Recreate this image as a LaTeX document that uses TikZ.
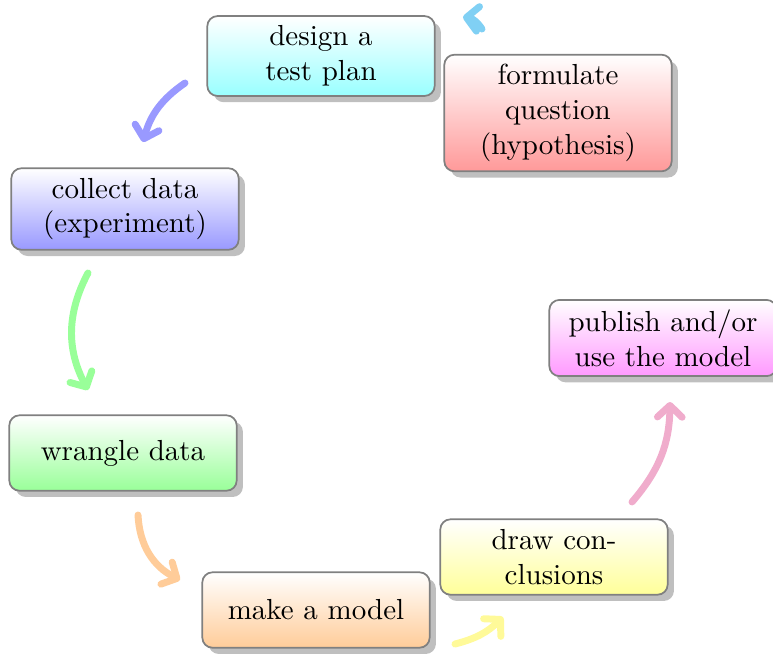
\documentclass[tikz,border=0pt]{standalone}
\usetikzlibrary{shadows,arrows.meta}
\definecolor{arrowcyan}{RGB}{128,208,244}
\definecolor{arrowpink}{RGB}{240,172,204}
\begin{document}
\begin{tikzpicture}[x=0.3448pt,y=-0.3448pt,
  stagebox/.style={draw=black!50, line width=0.6pt, rounded corners=3.5pt,
    align=center, minimum width=78.4pt, minimum height=26pt,
    top color=white, bottom color=#1!40, drop shadow},
  cyclearrow/.style={line width=2.4pt, line cap=round, #1,
    -{Straight Barb[length=4pt,width=8.5pt,round]}}
]
\useasboundingbox (0,0) rectangle (773,653);
% arrow end points
\coordinate (a1s) at (482,29);  \coordinate (a1e) at (463,17);
\coordinate (a2s) at (185,83);  \coordinate (a2e) at (143,142);
\coordinate (a3s) at (88,273);  \coordinate (a3e) at (88,390);
\coordinate (a4s) at (138,515); \coordinate (a4e) at (180,580);
\coordinate (a5s) at (455,644); \coordinate (a5e) at (503,617);
\coordinate (a6s) at (632,502); \coordinate (a6e) at (670,402);
% arrows
\draw[cyclearrow=arrowcyan] (a1s) to[bend right=25] (a1e);
\draw[cyclearrow=blue!40] (a2s) to[bend right=20] (a2e);
\draw[cyclearrow=green!40] (a3s) to[bend right=28] (a3e);
\draw[cyclearrow=orange!40] (a4s) to[bend right=30] (a4e);
\draw[cyclearrow=yellow!40] (a5s) to[bend right=15] (a5e);
\draw[cyclearrow=arrowpink] (a6s) to[bend right=20] (a6e);
% nodes
\node[stagebox=red] (formulate) at (558,113) {formulate\\question\\(hypothesis)};
\node[stagebox=cyan] (design) at (321,56) {design a\\test plan};
\node[stagebox=blue] (collect) at (125,209) {collect data\\(experiment)};
\node[stagebox=green] (wrangle) at (123,453) {wrangle data};
\node[stagebox=orange] (model) at (316,610) {make a model};
\node[stagebox=yellow] (conclude) at (554,557) {draw con-\\clusions};
\node[stagebox=magenta] (publish) at (663,338) {publish and/or\\use the model};
\end{tikzpicture}
\end{document}
